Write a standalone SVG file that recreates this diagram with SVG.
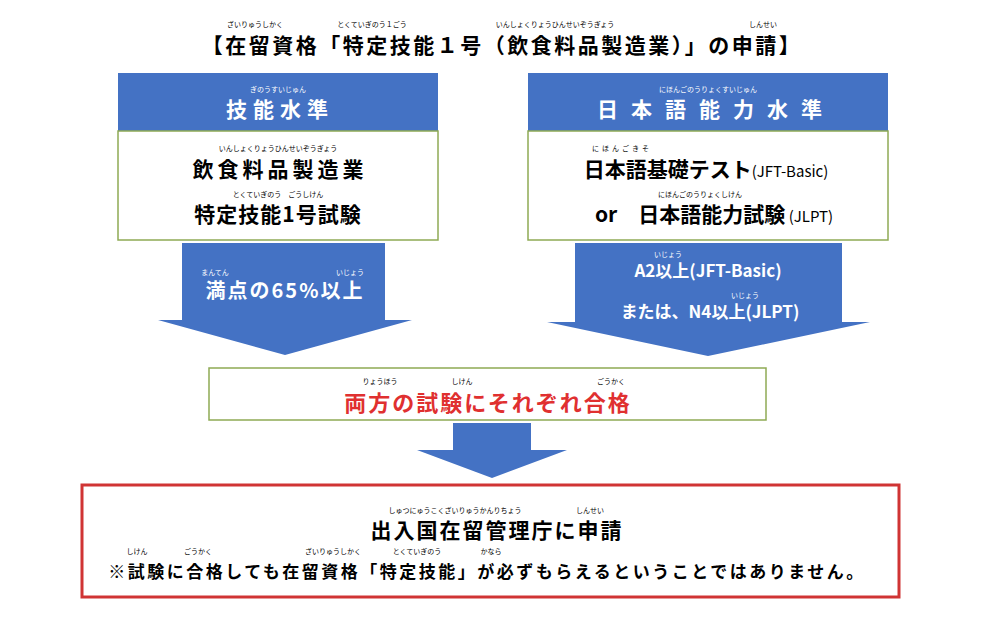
<svg xmlns="http://www.w3.org/2000/svg" width="1000" height="632" viewBox="0 0 1000 632">
<style>
text{font-family:"Noto Sans CJK JP","Liberation Sans",sans-serif;text-anchor:middle;fill:#000}
.t{font-size:20px;font-weight:bold}
.f{font-size:7px}
.w{fill:#fff}
.hdr{fill:#4472c4}
.box{fill:#fff;stroke:#8faa54;stroke-width:1.5}
.arr{fill:#4472c4}
</style>
<rect width="1000" height="632" fill="#fff"/>
<g id="title">
<text x="502" y="53" class="t" style="font-size:21px;letter-spacing:2.5px">【在留資格「特定技能１号（飲食料品製造業）」の申請】</text>
<text x="255" y="27" class="f">ざいりゅうしかく</text>
<text x="372" y="27" class="f">とくていぎのう１ごう</text>
<text x="555" y="27" class="f">いんしょくりょうひんせいぞうぎょう</text>
<text x="763" y="27" class="f">しんせい</text>
</g>
<g id="connectors">
<polygon class="arr" points="182,243 385,243 385,320 412,320 285,355 158,320 182,320"/>
<polygon class="arr" points="575,243 842,243 842,322 870,322 708,356 547,322 575,322"/>
<polygon class="arr" points="453,423 531,423 531,450 567,450 492,478 417,450 453,450"/>
</g>
<g id="skill-header">
<rect class="hdr" x="118" y="73" width="320" height="58"/>
<text x="280" y="117" class="t w" style="font-size:21px;letter-spacing:6px">技能水準</text>
<text x="278" y="92" class="f w">ぎのうすいじゅん</text>
</g>
<g id="skill-box">
<rect class="box" x="118" y="131" width="320" height="109"/>
<text x="280" y="177" class="t" style="font-size:21px;letter-spacing:4px">飲食料品製造業</text>
<text x="278" y="151" class="f">いんしょくりょうひんせいぞうぎょう</text>
<text x="278" y="222" class="t" style="font-size:21px;letter-spacing:1px">特定技能1号試験</text>
<text x="278" y="197" class="f">とくていぎのう　ごうしけん</text>
</g>
<g id="jp-header">
<rect class="hdr" x="528" y="73" width="360" height="58"/>
<text x="716" y="117" class="t w" style="font-size:21px;letter-spacing:13px">日本語能力水準</text>
<text x="708" y="92" class="f w">にほんごのうりょくすいじゅん</text>
</g>
<g id="jp-box">
<rect class="box" x="528" y="131" width="360" height="109"/>
<text x="706" y="177" class="t"><tspan style="font-size:21px">日本語基礎テスト</tspan><tspan style="font-weight:normal;font-size:15px">(JFT-Basic)</tspan></text>
<text x="622" y="151" class="f" style="letter-spacing:3px">にほんごきそ</text>
<text x="714" y="222" class="t"><tspan style="font-size:21px">or　日本語能力試験</tspan><tspan style="font-weight:normal;font-size:15px"> (JLPT)</tspan></text>
<text x="700" y="197" class="f">にほんごのうりょくしけん</text>
</g>
<g id="skill-result">
<text x="285" y="298" class="t w" style="letter-spacing:2px">満点の65%以上</text>
<text x="215" y="275" class="f w">まんてん</text>
<text x="350" y="275" class="f w">いじょう</text>
</g>
<g id="jp-result">
<text x="708" y="277" class="w" style="font-size:17px;font-weight:bold">A2以上(JFT-Basic)</text>
<text x="668" y="257" class="f w">いじょう</text>
<text x="710" y="318" class="w" style="font-size:17px;font-weight:bold">または、N4以上(JLPT)</text>
<text x="745" y="298" class="f w">いじょう</text>
</g>
<g id="both-pass">
<rect class="box" x="209" y="368" width="557" height="52"/>
<text x="488" y="411" class="t" style="fill:#e03030;font-size:22px;letter-spacing:2px">両方の試験にそれぞれ合格</text>
<text x="380" y="384" class="f">りょうほう</text>
<text x="462" y="384" class="f">しけん</text>
<text x="611" y="384" class="f">ごうかく</text>
</g>
<g id="apply">
<rect x="82" y="485" width="817" height="112" fill="#fff" stroke="#d03434" stroke-width="3"/>
<text x="497" y="538" class="t" style="font-size:21px;letter-spacing:2px">出入国在留管理庁に申請</text>
<text x="455" y="513" class="f">しゅつにゅうこくざいりゅうかんりちょう</text>
<text x="590" y="513" class="f">しんせい</text>
<text x="487" y="578" class="t" style="font-size:17px;letter-spacing:2.5px">※試験に合格しても在留資格「特定技能」が必ずもらえるということではありません。</text>
<text x="137" y="554" class="f">しけん</text>
<text x="198" y="554" class="f">ごうかく</text>
<text x="333" y="554" class="f">ざいりゅうしかく</text>
<text x="417" y="554" class="f">とくていぎのう</text>
<text x="491" y="554" class="f">かなら</text>
</g>
</svg>
